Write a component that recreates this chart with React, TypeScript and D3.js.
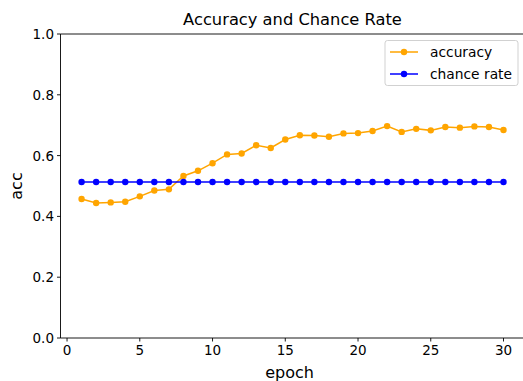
import React from "react";
import * as d3 from "d3";

const epochs = Array.from({ length: 30 }, (_, i) => i + 1);
const accuracy = [
  0.457, 0.444, 0.446, 0.448, 0.466, 0.485, 0.489, 0.533, 0.55, 0.575,
  0.604, 0.607, 0.634, 0.625, 0.653, 0.667, 0.666, 0.662, 0.673, 0.674,
  0.681, 0.697, 0.678, 0.688, 0.683, 0.694, 0.692, 0.696, 0.694, 0.684,
];
const chanceRate = epochs.map(() => 0.513);
const xTicks = [0, 5, 10, 15, 20, 25, 30];
const yTicks = [0, 0.2, 0.4, 0.6, 0.8, 1.0];

const W = 523;
const H = 381;
const FONT = "'DejaVu Sans', sans-serif";

export default function App() {
  const left = 60.5;
  const right = 524.6;
  const top = 34;
  const bottom = 338;
  const x = d3.scaleLinear().domain([-0.45, 31.45]).range([left, right]);
  const y = d3.scaleLinear().domain([0, 1]).range([bottom, top]);
  const line = d3
    .line<number>()
    .x((_, i) => x(epochs[i]))
    .y((d) => y(d));

  const series = [
    { name: "accuracy", data: accuracy, color: "#ffa500" },
    { name: "chance rate", data: chanceRate, color: "#0000ff" },
  ];

  return (
    <svg
      width={W}
      height={H}
      style={{ position: "absolute", left: 0, top: 0, background: "#fff" }}
      fontFamily={FONT}
    >
      {series.map((s) => (
        <g key={s.name}>
          <path d={line(s.data) || ""} fill="none" stroke={s.color} strokeWidth={1.5} />
          {s.data.map((v, i) => (
            <circle key={i} cx={x(epochs[i])} cy={y(v)} r={3.2} fill={s.color} />
          ))}
        </g>
      ))}
      {/* spines */}
      <line x1={left} x2={left} y1={top} y2={bottom} stroke="#000" strokeWidth={0.9} />
      <line x1={left} x2={right} y1={bottom} y2={bottom} stroke="#000" strokeWidth={0.9} />
      <line x1={left} x2={right} y1={top} y2={top} stroke="#000" strokeWidth={0.9} />
      <line x1={right} x2={right} y1={top} y2={bottom} stroke="#000" strokeWidth={0.9} />
      {/* x ticks */}
      {xTicks.map((t) => (
        <g key={t}>
          <line x1={x(t)} x2={x(t)} y1={bottom} y2={bottom + 3.5} stroke="#000" strokeWidth={0.9} />
          <text x={x(t)} y={bottom + 17} textAnchor="middle" fontSize={13.5} fill="#000">
            {t}
          </text>
        </g>
      ))}
      {/* y ticks */}
      {yTicks.map((t) => (
        <g key={t}>
          <line x1={left - 3.5} x2={left} y1={y(t)} y2={y(t)} stroke="#000" strokeWidth={0.9} />
          <text x={left - 6.5} y={y(t) + 5} textAnchor="end" fontSize={13.5} fill="#000">
            {t.toFixed(1)}
          </text>
        </g>
      ))}
      <text x={(left + right) / 2 - 3} y={377.5} textAnchor="middle" fontSize={16} fill="#000">
        epoch
      </text>
      <text
        transform={`translate(22, ${(top + bottom) / 2}) rotate(-90)`}
        textAnchor="middle"
        fontSize={16}
        fill="#000"
      >
        acc
      </text>
      <text x={292.5} y={25} textAnchor="middle" fontSize={16.3} fill="#000">
        Accuracy and Chance Rate
      </text>
      {/* legend */}
      <rect x={385} y={40.5} width={133} height={45} rx={2.5} fill="#fff" fillOpacity={0.8} stroke="#ccc" strokeWidth={0.9} />
      {series.map((s, i) => {
        const ly = 52 + i * 22;
        return (
          <g key={s.name}>
            <line x1={390} x2={418} y1={ly} y2={ly} stroke={s.color} strokeWidth={1.5} />
            <circle cx={404} cy={ly} r={3.2} fill={s.color} />
            <text x={430} y={ly + 5} fontSize={13.8} fill="#000">
              {s.name}
            </text>
          </g>
        );
      })}
    </svg>
  );
}
